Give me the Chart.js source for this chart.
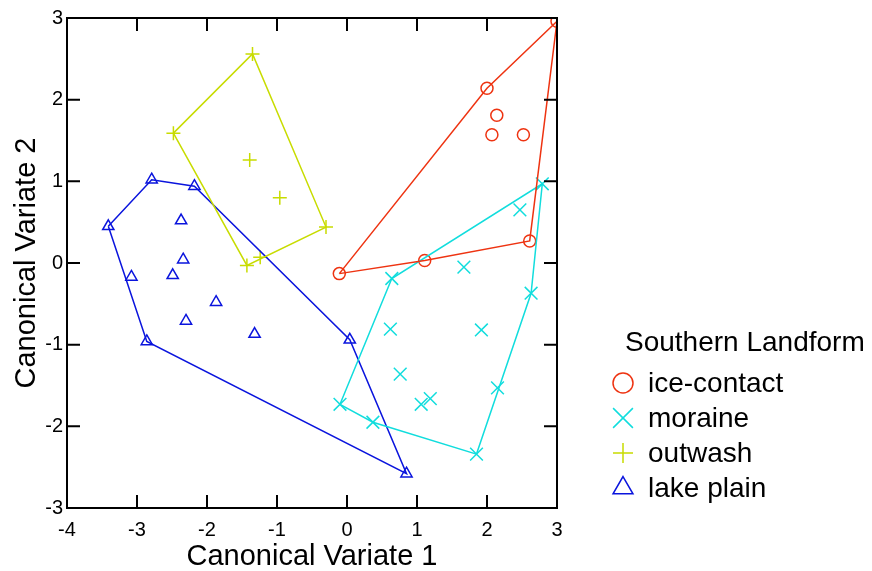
<!DOCTYPE html>
<html>
<head>
<meta charset="utf-8">
<title>Canonical Variates</title>
<script src="https://cdn.jsdelivr.net/npm/chart.js@4/dist/chart.umd.min.js"></script>
<style>
  html, body { margin: 0; padding: 0; background: #fff; }
  #wrap { width: 872px; height: 571px; }
</style>
</head>
<body>
<div id="wrap"><canvas id="myChart" width="872" height="571"></canvas></div>
<script>
const FONT = "Arial, 'Liberation Sans', sans-serif";

// canonical scores per landform group
const iceContactX = [3.0, 2.0, 2.14, 2.07, 2.52, 2.61, 1.11, -0.11];
const iceContactY = [2.96, 2.14, 1.81, 1.57, 1.57, 0.27, 0.03, -0.13];

const moraineX = [2.79, 2.47, 1.67, 0.64, 2.63, 0.62, 1.92, 0.76, 2.15, 1.19, 1.06, -0.10, 0.37, 1.85];
const moraineY = [0.97, 0.65, -0.05, -0.19, -0.37, -0.81, -0.82, -1.36, -1.53, -1.66, -1.73, -1.73, -1.95, -2.34];

const outwashX = [-1.35, -2.48, -1.39, -0.96, -0.30, -1.43, -1.24];
const outwashY = [2.56, 1.59, 1.26, 0.80, 0.44, -0.03, 0.07];

const lakePlainX = [-3.41, -2.79, -2.18, -2.37, -2.34, -3.08, -2.49, -1.87, -2.30, -1.32, -2.86, 0.04, 0.85];
const lakePlainY = [0.45, 1.02, 0.94, 0.52, 0.04, -0.17, -0.15, -0.48, -0.71, -0.87, -0.96, -0.94, -2.58];

const groupNames = ["ice-contact", "moraine", "outwash", "lake plain"];
const groupColors = ["#ee3311", "#11dddd", "#c8dc00", "#0a14dd"];
const groupStyles = ["circle", "crossRot", "cross", "triangle"];
const groupRadius = [6, 9, 7, 6.5];
const legendRadius = [10, 14, 10, 11.5];

const xTicks = [-4, -3, -2, -1, 0, 1, 2, 3];
const yTicks = [-3, -2, -1, 0, 1, 2, 3];

function toPoints(xs, ys) {
  return xs.map((x, i) => ({ x: x, y: ys[i] }));
}

// monotone chain convex hull, returned closed
function hull(pts) {
  const p = pts.slice().sort((a, b) => a.x - b.x || a.y - b.y);
  const cross = (o, a, b) => (a.x - o.x) * (b.y - o.y) - (a.y - o.y) * (b.x - o.x);
  const lower = [];
  for (const q of p) {
    while (lower.length >= 2 && cross(lower[lower.length - 2], lower[lower.length - 1], q) <= 0) lower.pop();
    lower.push(q);
  }
  const upper = [];
  for (let i = p.length - 1; i >= 0; i--) {
    const q = p[i];
    while (upper.length >= 2 && cross(upper[upper.length - 2], upper[upper.length - 1], q) <= 0) upper.pop();
    upper.push(q);
  }
  upper.pop();
  lower.pop();
  const h = lower.concat(upper);
  h.push(h[0]);
  return h;
}

const groups = [
  toPoints(iceContactX, iceContactY),
  toPoints(moraineX, moraineY),
  toPoints(outwashX, outwashY),
  toPoints(lakePlainX, lakePlainY),
];

const datasets = [];
groups.forEach((pts, i) => {
  datasets.push({
    label: groupNames[i] + " hull",
    data: hull(pts),
    showLine: true,
    borderColor: groupColors[i],
    borderWidth: 1.5,
    pointRadius: 0,
    tension: 0,
  });
});
groups.forEach((pts, i) => {
  datasets.push({
    label: groupNames[i],
    data: pts,
    showLine: false,
    pointStyle: groupStyles[i],
    pointRadius: groupRadius[i],
    pointBorderColor: groupColors[i],
    pointBackgroundColor: "rgba(0,0,0,0)",
    pointBorderWidth: 1.5,
  });
});

// frame with inward tick marks on all four sides
const framePlugin = {
  id: "frame",
  afterDatasetsDraw(chart) {
    const { ctx, chartArea: a, scales } = chart;
    const len = 13;
    ctx.save();
    ctx.strokeStyle = "#000";
    ctx.lineWidth = 2;
    ctx.strokeRect(a.left, a.top, a.right - a.left, a.bottom - a.top);
    ctx.beginPath();
    xTicks.forEach((v) => {
      const px = scales.x.getPixelForValue(v);
      ctx.moveTo(px, a.bottom); ctx.lineTo(px, a.bottom - len);
      ctx.moveTo(px, a.top); ctx.lineTo(px, a.top + len);
    });
    yTicks.forEach((v) => {
      const py = scales.y.getPixelForValue(v);
      ctx.moveTo(a.left, py); ctx.lineTo(a.left + len, py);
      ctx.moveTo(a.right, py); ctx.lineTo(a.right - len, py);
    });
    ctx.stroke();
    ctx.restore();
  },
};

// legend block to the right of the plot
const legendPlugin = {
  id: "sideLegend",
  afterDraw(chart) {
    const ctx = chart.ctx;
    ctx.save();
    ctx.font = "28px " + FONT;
    ctx.textBaseline = "middle";
    ctx.textAlign = "left";
    ctx.fillStyle = "#000";
    ctx.fillText("Southern Landform", 625, 343);
    groupNames.forEach((name, i) => {
      const y = 383 + i * 35;
      ctx.strokeStyle = groupColors[i];
      ctx.fillStyle = "rgba(0,0,0,0)";
      ctx.lineWidth = 1.5;
      Chart.helpers.drawPoint(ctx, { pointStyle: groupStyles[i], radius: legendRadius[i], borderWidth: 1.5 }, 623, y);
      ctx.fillStyle = "#000";
      ctx.fillText(name, 648, y + 1);
    });
    ctx.restore();
  },
};

const ctx = document.getElementById("myChart").getContext("2d");
const myChart = new Chart(ctx, {
  type: "scatter",
  data: { datasets: datasets },
  options: {
    responsive: false,
    animation: false,
    layout: { padding: { top: 18, right: 315, left: 0, bottom: 0 } },
    plugins: {
      legend: { display: false },
      tooltip: { enabled: false },
    },
    scales: {
      x: {
        type: "linear",
        min: -4,
        max: 3,
        afterFit: (scale) => { scale.height = 63; },
        afterBuildTicks: (scale) => { scale.ticks = xTicks.map((v) => ({ value: v })); },
        grid: { display: false, drawTicks: false },
        border: { display: false },
        ticks: { color: "#000", font: { family: FONT, size: 20 }, padding: 10 },
        title: {
          display: true,
          text: "Canonical Variate 1",
          color: "#000",
          font: { family: FONT, size: 29, lineHeight: 1 },
          padding: { top: 0, bottom: 0 },
        },
      },
      y: {
        type: "linear",
        min: -3,
        max: 3,
        afterFit: (scale) => { scale.width = 67; },
        afterBuildTicks: (scale) => { scale.ticks = yTicks.map((v) => ({ value: v })); },
        grid: { display: false, drawTicks: false },
        border: { display: false },
        ticks: { color: "#000", font: { family: FONT, size: 20 }, padding: 4 },
        title: {
          display: true,
          text: "Canonical Variate 2",
          color: "#000",
          font: { family: FONT, size: 29, lineHeight: 1 },
          padding: { top: 12, bottom: 0 },
        },
      },
    },
  },
  plugins: [framePlugin, legendPlugin],
});
</script>
</body>
</html>
